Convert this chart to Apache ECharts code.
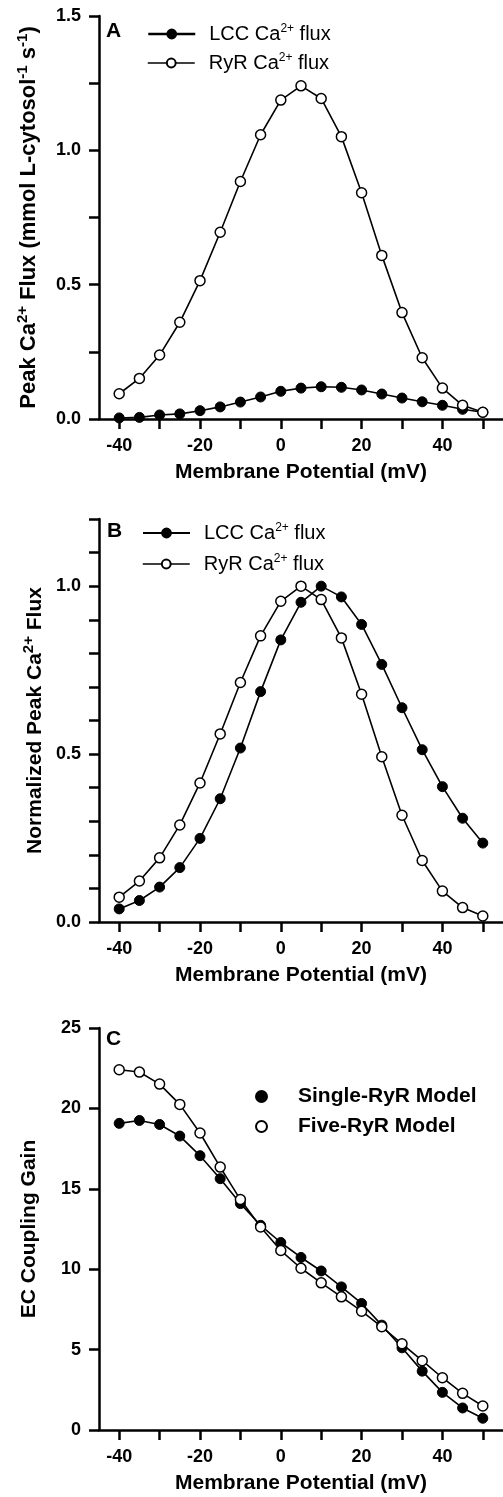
<!DOCTYPE html>
<html><head><meta charset="utf-8">
<script src="https://cdn.jsdelivr.net/npm/echarts@6/dist/echarts.min.js"></script>
<style>html,body{margin:0;padding:0;background:#fff}#c{width:503px;height:1497px}</style>
</head><body><div id="c"></div>
<script>
const voltages = [-40,-35,-30,-25,-20,-15,-10,-5,0,5,10,15,20,25,30,35,40,45,50];
const xTicks = [-40,-30,-20,-10,0,10,20,30,40,50];
const xLabels = [-40,-20,0,20,40];
const yTicksA = [0,0.25,0.5,0.75,1,1.25,1.5];
const yLabelsA = [0,0.5,1,1.5];
const yTicksB = [0,0.1,0.2,0.3,0.4,0.5,0.6,0.7,0.8,0.9,1.0,1.1,1.2];
const yLabelsB = [0,0.5,1];
const yTicksC = [0,5,10,15,20,25];
const yLabelsC = [0,5,10,15,20,25];

const fluxLCC = [0.004,0.006,0.015,0.019,0.031,0.045,0.063,0.082,0.103,0.115,0.120,0.118,0.108,0.093,0.078,0.064,0.051,0.036,0.025];
const fluxRyR = [0.094,0.151,0.238,0.360,0.515,0.695,0.884,1.058,1.187,1.240,1.193,1.051,0.842,0.609,0.396,0.228,0.115,0.051,0.025];
const normLCC = [0.039,0.064,0.104,0.162,0.249,0.367,0.518,0.686,0.840,0.952,1.0,0.968,0.886,0.767,0.638,0.513,0.403,0.309,0.235];
const normRyR = [0.074,0.122,0.191,0.289,0.414,0.560,0.713,0.852,0.955,1.0,0.960,0.846,0.678,0.492,0.318,0.183,0.092,0.043,0.018];
const gainSingle = [19.07,19.25,19.0,18.28,17.06,15.63,14.08,12.73,11.66,10.73,9.89,8.90,7.87,6.52,5.11,3.66,2.34,1.37,0.73];
const gainFive = [22.40,22.26,21.51,20.25,18.47,16.35,14.33,12.63,11.16,10.06,9.15,8.28,7.39,6.42,5.36,4.31,3.25,2.28,1.49];

const FF = '"Liberation Sans", Arial, sans-serif';
const pair = (ys) => voltages.map((v, i) => [v, ys[i]]);

function xAx(i) {
  return {
    type: 'value', gridIndex: i, min: -45, max: 55,
    name: 'Membrane Potential (mV)', nameLocation: 'middle', nameGap: 43, nameMoveOverlap: false,
    nameTextStyle: {fontFamily: FF, fontWeight: 'bold', fontSize: 21, color: '#000'},
    axisLine: {onZero: false, lineStyle: {color: '#000', width: 2.5}},
    axisTick: {show: true, length: 10, customValues: xTicks, lineStyle: {color: '#000', width: 2.5}},
    axisLabel: {customValues: xLabels, margin: 18, fontFamily: FF, fontWeight: 'bold', fontSize: 18, color: '#000'},
    splitLine: {show: false}
  };
}
function yAx(i, max, ticks, labels, fmt, name, gap, rich) {
  return {
    type: 'value', gridIndex: i, min: 0, max: max,
    name: name, nameLocation: 'middle', nameGap: gap, nameMoveOverlap: false,
    nameTextStyle: {fontFamily: FF, fontWeight: 'bold', fontSize: 21, color: '#000', rich: rich},
    axisLine: {show: true, onZero: false, lineStyle: {color: '#000', width: 2.5}},
    axisTick: {show: true, length: 10, customValues: ticks, lineStyle: {color: '#000', width: 2.5}},
    axisLabel: {customValues: labels, margin: 18, formatter: fmt, fontFamily: FF, fontWeight: 'bold', fontSize: 18, color: '#000'},
    splitLine: {show: false}
  };
}
const nameRichA = {
  b: {fontFamily: FF, fontWeight: 'bold', fontSize: 22, lineHeight: 28, color: '#000'},
  s: {fontFamily: FF, fontWeight: 'bold', fontSize: 15, lineHeight: 15, verticalAlign: 'top', color: '#000'}
};
const nameRich = {
  b: {fontFamily: FF, fontWeight: 'bold', fontSize: 21, lineHeight: 28, color: '#000'},
  s: {fontFamily: FF, fontWeight: 'bold', fontSize: 15, lineHeight: 15, verticalAlign: 'top', color: '#000'}
};
const legRich = {
  n: {fontFamily: FF, fontSize: 20, lineHeight: 22, color: '#000'},
  p: {fontFamily: FF, fontSize: 20, lineHeight: 22, color: '#000', padding: [0, 0, 0, 9]},
  s: {fontFamily: FF, fontSize: 12, lineHeight: 12, verticalAlign: 'top', color: '#000'}
};
const legFmt = (name) => name.startsWith('LCC') ? '{p|LCC Ca}{s|2+}{n| flux}' : '{p|RyR Ca}{s|2+}{n| flux}';

function ser(name, xi, ys, filled, z) {
  return {
    name: name, type: 'line', xAxisIndex: xi, yAxisIndex: xi, data: pair(ys),
    symbol: 'circle', symbolSize: 10, showSymbol: true, z: z,
    lineStyle: {color: '#000', width: 1.6},
    itemStyle: filled ? {color: '#000', borderColor: '#000', borderWidth: 1} : {color: '#fff', borderColor: '#000', borderWidth: 1.5},
    emphasis: {disabled: true}, animation: false
  };
}
function leg(name, left, top, lw) {
  return {
    data: [name], left: left, top: top, padding: 0, itemWidth: 47, itemHeight: 11,
    selectedMode: false, formatter: legFmt, textStyle: {rich: legRich},
    lineStyle: {width: lw}
  };
}
const f1 = v => v.toFixed(1);
const f0 = v => String(Math.round(v));

const option = {
  animation: false,
  backgroundColor: '#fff',
  grid: [
    {left: 99, top: 16, width: 404, height: 403},
    {left: 99, top: 519, width: 404, height: 403},
    {left: 99, top: 1028, width: 404, height: 402}
  ],
  title: [
    {text: 'A', left: 106, top: 21, padding: 0, textStyle: {fontFamily: FF, fontWeight: 'bold', fontSize: 21, color: '#000'}},
    {text: 'B', left: 107, top: 521, padding: 0, textStyle: {fontFamily: FF, fontWeight: 'bold', fontSize: 21, color: '#000'}},
    {text: 'C', left: 106, top: 1029, padding: 0, textStyle: {fontFamily: FF, fontWeight: 'bold', fontSize: 21, color: '#000'}}
  ],
  legend: [
    leg('LCC Ca2+ flux A', 147, 23, 2.5),
    leg('RyR Ca2+ flux A', 147, 52, 1.5),
    leg('LCC Ca2+ flux B', 142, 522, 2),
    leg('RyR Ca2+ flux B', 142, 553, 1.5),
    {data: ['Single-RyR Model', 'Five-RyR Model'], orient: 'vertical', left: 255, top: 1086, padding: 0,
     itemWidth: 11, itemHeight: 11, itemGap: 9, icon: 'circle', selectedMode: false,
     textStyle: {fontFamily: FF, fontWeight: 'bold', fontSize: 21, color: '#000', padding: [0, 0, 0, 26]}}
  ],
  xAxis: [xAx(0), xAx(1), xAx(2)],
  yAxis: [
    yAx(0, 1.5, yTicksA, yLabelsA, f1, '{b|Peak Ca}{s|2+}{b| Flux (mmol L-cytosol}{s|-1}{b| s}{s|-1}{b|)}', 56, nameRichA),
    yAx(1, 1.2, yTicksB, yLabelsB, f1, '{b|Normalized Peak Ca}{s|2+}{b| Flux}', 50, nameRich),
    yAx(2, 25, yTicksC, yLabelsC, f0, 'EC Coupling Gain', 59, nameRich)
  ],
  series: [
    ser('LCC Ca2+ flux A', 0, fluxLCC, true, 2),
    ser('RyR Ca2+ flux A', 0, fluxRyR, false, 3),
    ser('LCC Ca2+ flux B', 1, normLCC, true, 2),
    ser('RyR Ca2+ flux B', 1, normRyR, false, 3),
    ser('Single-RyR Model', 2, gainSingle, true, 2),
    ser('Five-RyR Model', 2, gainFive, false, 3)
  ]
};
const chart = echarts.init(document.getElementById('c'), null, {renderer: 'canvas'});
chart.setOption(option);
</script>
</body></html>
